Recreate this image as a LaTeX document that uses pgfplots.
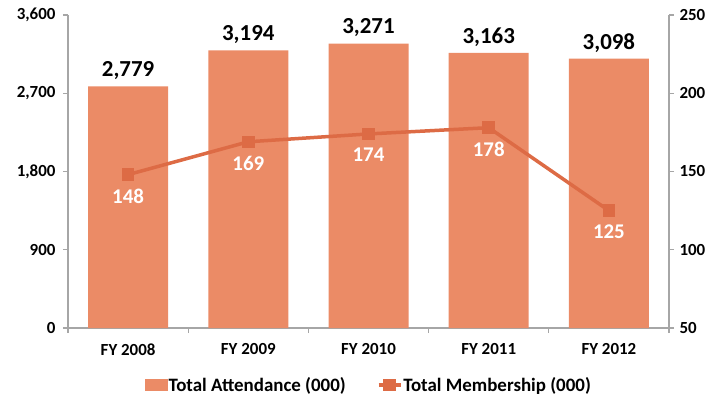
\documentclass[border=0pt]{standalone}
\usepackage{pgfplots}
\pgfplotsset{compat=1.18}
\usepackage{fontspec}
\setmainfont{Carlito}
\usetikzlibrary{calc}
\definecolor{barc}{HTML}{EB8B66}
\definecolor{linec}{HTML}{DD6B45}
\definecolor{axc}{HTML}{A6A6A6}
\begin{document}
\begin{tikzpicture}
\pgfplotsset{
 common/.style={scale only axis, width=601bp, height=313bp, xmin=-0.5, xmax=4.5,
  /pgf/number format/assume math mode=true,
  /pgf/number format/1000 sep={,},
  tick label style={font=\bfseries\fontsize{17}{19}\selectfont, text=black},
  axis line style={axc, line width=1.2bp},
  tick style={axc, line width=1.2bp},
  tick align=outside,
  major tick length=5bp,
  clip=false,
 }
}
\begin{axis}[common, name=main, ymin=0, ymax=3600, ytick={0,900,1800,2700,3600},
  axis y line*=left, axis x line*=bottom,
  yticklabel style={xshift=-4bp},
  xtick={0,1,2,3,4}, xticklabels={FY 2008,FY 2009,FY 2010,FY 2011,FY 2012},
  major x tick style={draw=none},
  minor xtick={-0.5,0.5,1.5,2.5,3.5,4.5}, minor tick length=5bp,
  xticklabel style={yshift=-7bp},
  ybar, bar width=80bp,
  nodes near coords,
  nodes near coords style={font=\bfseries\fontsize{23}{25}\selectfont, text=black, anchor=south, yshift=3bp},
]
\addplot[fill=barc, draw=none] coordinates {(0,2779) (1,3194) (2,3271) (3,3163) (4,3098)};
\end{axis}
\begin{axis}[common, ymin=50, ymax=250, ytick={50,100,150,200,250},
  axis y line*=right, axis x line=none,
  yticklabel style={xshift=2bp},
  legend style={at={(0.5,-0.182)}, anchor=center, draw=none, fill=none,
    legend columns=2, font=\bfseries\fontsize{19}{21}\selectfont,
    /tikz/every even column/.append style={column sep=30bp},
    nodes={inner xsep=1bp}},
]
\addlegendimage{legend image code/.code={\fill[barc] (0bp,-5.5bp) rectangle (22bp,5.5bp);}}
\addlegendentry{Total Attendance (000)}
\addplot[linec, line width=3.5bp, mark=square*, mark size=4.5bp,
  mark options={solid, fill=linec},
  nodes near coords,
  nodes near coords style={font=\bfseries\fontsize{21}{23}\selectfont, text=white, anchor=north, yshift=-9bp},
  legend image code/.code={\draw[linec, line width=3.5bp] (0bp,0bp)--(22bp,0bp); \fill[linec] (6.5bp,-4.5bp) rectangle (15.5bp,4.5bp);}]
  coordinates {(0,148) (1,169) (2,174) (3,178) (4,125)};
\addlegendentry{Total Membership (000)}
\end{axis}
\pgfresetboundingbox
\path ($(main.south west)+(-68bp,-73bp)$) rectangle ($(main.north east)+(52bp,15bp)$);
\end{tikzpicture}
\end{document}
